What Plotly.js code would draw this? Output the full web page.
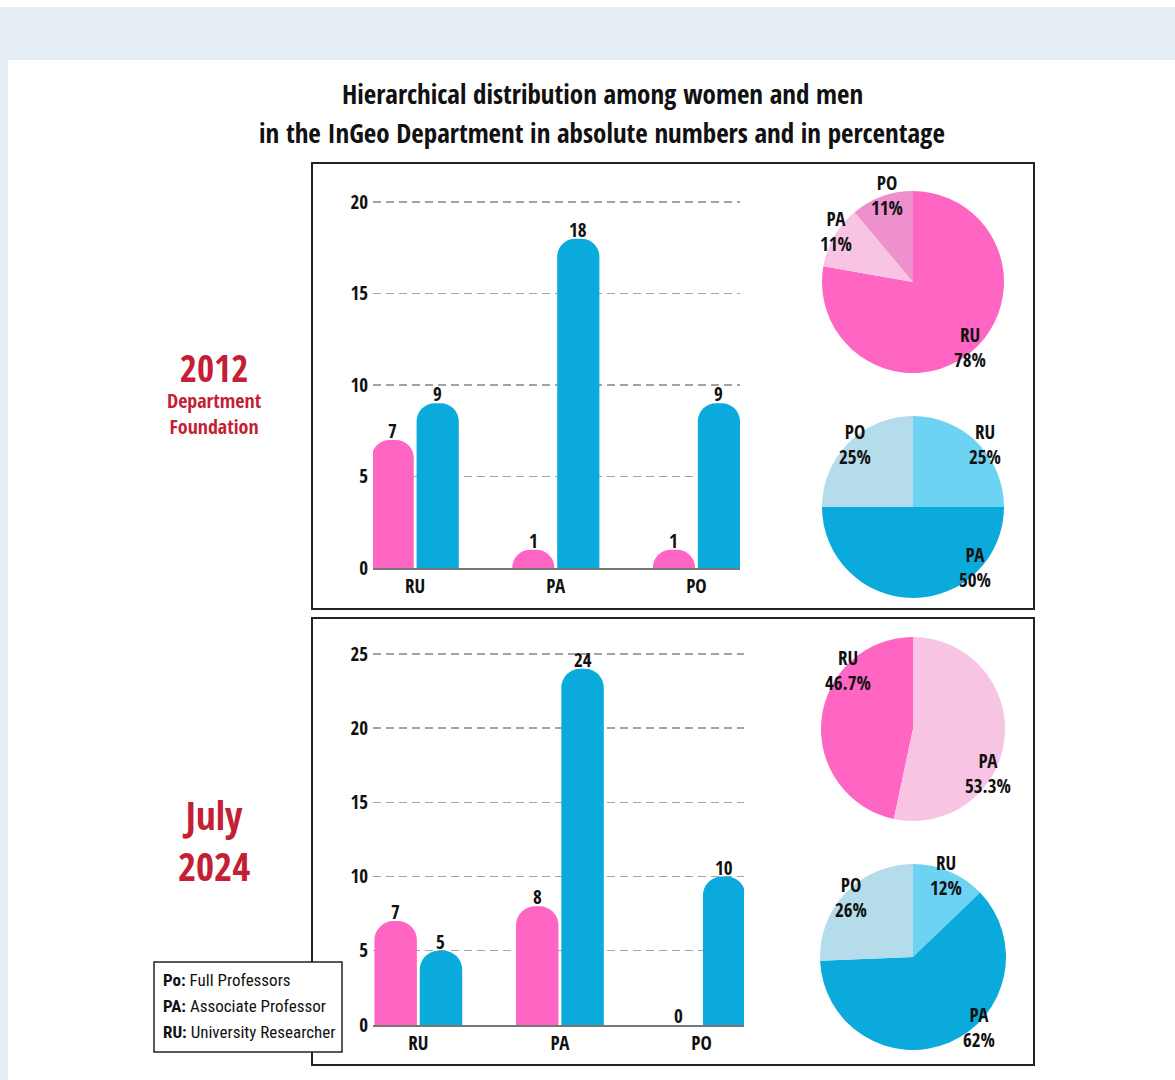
<!DOCTYPE html>
<html>
<head>
<meta charset="utf-8">
<script src="https://cdn.plot.ly/plotly-3.0.1.min.js"></script>
<style>
  html, body { margin: 0; padding: 0; background: #ffffff; }
  #chart { width: 1175px; height: 1080px; }
</style>
</head>
<body>
<div id="chart"></div>
<script>
// ---------------- DATA ----------------
const categories = ['RU', 'PA', 'PO'];
const women2012 = [7, 1, 1];
const men2012 = [9, 18, 9];
const women2024 = [7, 8, 0];
const men2024 = [5, 24, 10];
const yTicks2012 = [0, 5, 10, 15, 20];
const yTicks2024 = [0, 5, 10, 15, 20, 25];
const pctWomen2012 = ['78%', '11%', '11%'];
const pctMen2012 = ['25%', '50%', '25%'];
const pctWomen2024 = ['46.7%', '53.3%', ''];
const pctMen2024 = ['12%', '62%', '26%'];
const legendCodes = ['Po:', 'PA:', 'RU:'];
const legendNames = ['Full Professors', 'Associate Professor', 'University Researcher'];
const titleLines = ['Hierarchical distribution among women and men', 'in the InGeo Department in absolute numbers and in percentage'];
const sideLabel2012 = ['2012', 'Department', 'Foundation'];
const sideLabel2024 = ['July', '2024'];

// ---------------- STYLE ----------------
const W = 1175, H = 1080;
const FONT = "'Open Sans Condensed', 'Roboto Condensed', 'Liberation Sans', sans-serif";
const FONT_REG = "'Roboto Condensed', 'Open Sans Condensed', 'Liberation Sans', sans-serif";
const PINK = '#ff66c4';
const BLUE = '#0aaadc';
const womenPieColors = ['#ff66c4', '#f8c4e4', '#ee90cc'];
const menPieColors = ['#6dd3f3', '#0aaadc', '#b4dcea'];
const RED = '#c41f36';
const BAR_W = 0.3, PINK_OFF = -0.31, BLUE_OFF = 0.01;
const px = v => v / W;
const py = v => 1 - v / H;
const sum = a => a.reduce((s, v) => s + v, 0);

function barTrace(vals, color, offset, xa, ya) {
  return {
    type: 'bar', x: categories, y: vals, xaxis: xa, yaxis: ya,
    width: BAR_W, offset: offset,
    marker: { color: color, cornerradius: '45%', line: { width: 0 } },
    hoverinfo: 'skip', showlegend: false
  };
}

function pieTrace(vals, colors, dom, rotation) {
  return {
    type: 'pie', labels: categories, values: vals, sort: false,
    direction: 'clockwise', rotation: rotation,
    marker: { colors: colors, line: { width: 0 } },
    textinfo: 'none', hoverinfo: 'skip', showlegend: false,
    domain: dom
  };
}

const data = [
  barTrace(women2012, PINK, PINK_OFF, 'x', 'y'),
  barTrace(men2012, BLUE, BLUE_OFF, 'x', 'y'),
  barTrace(women2024, PINK, PINK_OFF, 'x2', 'y2'),
  barTrace(men2024, BLUE, BLUE_OFF, 'x2', 'y2'),
  pieTrace(women2012, womenPieColors, { x: [px(822), px(1004)], y: [py(373), py(191)] }, 0),
  pieTrace(men2012, menPieColors, { x: [px(822), px(1004)], y: [py(598), py(416)] }, 0),
  // RU slice ends at 12 o'clock in the reference
  pieTrace(women2024, womenPieColors, { x: [px(821), px(1005)], y: [py(821), py(637)] }, -360 * women2024[0] / sum(women2024)),
  pieTrace(men2024, menPieColors, { x: [px(820), px(1006)], y: [py(1050), py(864)] }, 0)
];

const annotations = [];

// bar value labels, positioned on the bar axes
function barLabels(vals, offset, xa, ya) {
  vals.forEach((v, i) => {
    annotations.push({
      xref: xa, yref: ya, x: i + offset + BAR_W / 2, y: v,
      xanchor: 'center', yanchor: 'bottom', yshift: -6, showarrow: false,
      text: String(v),
      font: { family: FONT, size: 19, color: '#111', weight: 700 }
    });
  });
}
barLabels(women2012, PINK_OFF, 'x', 'y');
barLabels(men2012, BLUE_OFF, 'x', 'y');
barLabels(women2024, PINK_OFF, 'x2', 'y2');
barLabels(men2024, BLUE_OFF, 'x2', 'y2');

// pie label placement (pixel positions of label centres)
const pieLabelPos = [
  { pct: pctWomen2012, pos: [[970, 348], [836, 232], [887, 196]] },
  { pct: pctMen2012, pos: [[985, 444], [975, 567], [855, 444]] },
  { pct: pctWomen2024, pos: [[848, 670], [988, 773], null] },
  { pct: pctMen2024, pos: [[946, 875], [979, 1027], [851, 897]] }
];
pieLabelPos.forEach(p => {
  categories.forEach((c, i) => {
    if (!p.pos[i] || !p.pct[i]) return;
    annotations.push({
      xref: 'paper', yref: 'paper', x: px(p.pos[i][0]), y: py(p.pos[i][1]),
      xanchor: 'center', yanchor: 'middle', showarrow: false,
      text: c + '<br>' + p.pct[i],
      font: { family: FONT, size: 19, color: '#111', weight: 700 }
    });
  });
});

// side labels
annotations.push(
  { xref: 'paper', yref: 'paper', x: px(214), y: py(391), showarrow: false, xanchor: 'center', yanchor: 'middle',
    text: '<span style="font-size:37px">' + sideLabel2012[0] + '</span><br>' + sideLabel2012[1] + '<br>' + sideLabel2012[2],
    font: { family: FONT, size: 20, color: RED, weight: 700 } },
  { xref: 'paper', yref: 'paper', x: px(214), y: py(840), showarrow: false, xanchor: 'center', yanchor: 'middle',
    text: sideLabel2024.join('<br>'),
    font: { family: FONT, size: 39, color: RED, weight: 700 } }
);

// legend text
legendCodes.forEach((c, i) => {
  annotations.push({
    xref: 'paper', yref: 'paper', x: px(161), y: py(980 + i * 26), showarrow: false,
    xanchor: 'left', yanchor: 'middle',
    text: '<b>' + c + '</b> ' + legendNames[i],
    font: { family: FONT_REG, size: 17, color: '#111', weight: 400 }
  });
});

// title
titleLines.forEach((t, i) => {
  annotations.push({
    xref: 'paper', yref: 'paper', x: px(602), y: py(94 + i * 38), showarrow: false,
    xanchor: 'center', yanchor: 'middle',
    text: t,
    font: { family: FONT, size: 27, color: '#111', weight: 700 }
  });
});

const shapes = [
  // background bands
  { type: 'rect', xref: 'paper', yref: 'paper', x0: 0, x1: 1, y0: py(60), y1: py(7), fillcolor: '#e6eef5', line: { width: 0 }, layer: 'below' },
  { type: 'rect', xref: 'paper', yref: 'paper', x0: 0, x1: px(8), y0: 0, y1: py(7), fillcolor: '#e6eef5', line: { width: 0 }, layer: 'below' },
  // panel frames
  { type: 'rect', xref: 'paper', yref: 'paper', x0: px(312), x1: px(1034), y0: py(609), y1: py(163), line: { color: '#222', width: 2 }, fillcolor: 'rgba(0,0,0,0)', layer: 'above' },
  { type: 'rect', xref: 'paper', yref: 'paper', x0: px(312), x1: px(1034), y0: py(1065), y1: py(618), line: { color: '#222', width: 2 }, fillcolor: 'rgba(0,0,0,0)', layer: 'above' },
  // legend box
  { type: 'rect', xref: 'paper', yref: 'paper', x0: px(154), x1: px(342), y0: py(1052), y1: py(962), line: { color: '#222', width: 1.5 }, fillcolor: '#ffffff', layer: 'above' }
];

const axisFont = { family: FONT, size: 19, color: '#111', weight: 700 };
function yAxis(dom, range, ticks, anchor) {
  return {
    domain: dom, range: range, anchor: anchor, tickvals: ticks, ticktext: ticks.map(String),
    showgrid: true, gridcolor: '#a3a3a3', gridwidth: 1.4, griddash: '8px,5px',
    zeroline: false, showline: false, ticks: '', ticklabelstandoff: 4, tickfont: axisFont, fixedrange: true
  };
}
function xAxis(dom, range, anchor) {
  return {
    domain: dom, range: range, anchor: anchor, type: 'category',
    showgrid: false, zeroline: false, showline: true, linecolor: '#777', linewidth: 2,
    ticks: '', tickfont: { family: FONT, size: 19, color: '#111', weight: 700 }, fixedrange: true
  };
}

const layout = {
  width: W, height: H, autosize: false,
  margin: { l: 0, r: 0, t: 0, b: 0, pad: 0 },
  paper_bgcolor: '#ffffff', plot_bgcolor: 'rgba(0,0,0,0)',
  font: { family: FONT, color: '#111' },
  showlegend: false,
  xaxis: xAxis([px(373), px(740)], [-0.3, 2.31], 'y'),
  yaxis: yAxis([py(568), py(190)], [0, 20.66], yTicks2012, 'x'),
  xaxis2: xAxis([px(373), px(744)], [-0.32, 2.30], 'y2'),
  yaxis2: yAxis([py(1025), py(645)], [0, 25.6], yTicks2024, 'x2'),
  shapes: shapes,
  annotations: annotations
};

Plotly.newPlot('chart', data, layout, { staticPlot: true, displayModeBar: false });
</script>
</body>
</html>
